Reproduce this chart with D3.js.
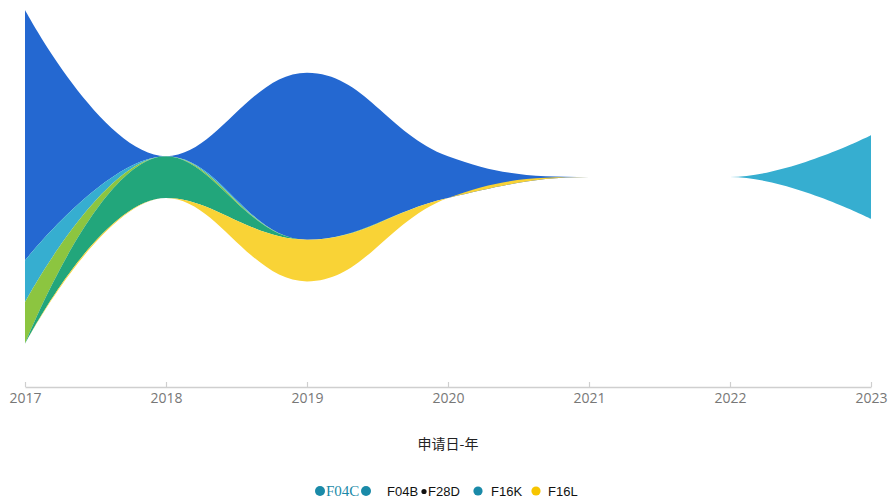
<!DOCTYPE html>
<html>
<head>
<meta charset="utf-8">
<script src="https://cdn.jsdelivr.net/npm/d3@7"></script>
<style>
  html, body { margin: 0; padding: 0; background: #fff; }
  svg { display: block; }
</style>
</head>
<body>
<svg id="chart" width="890" height="504"></svg>
<script>
// Filing years on the single axis
const years = [2017, 2018, 2019, 2020, 2021, 2022, 2023];

// Filing counts per IPC subclass, one value per year
const seriesNames = ["F04C", "F04B", "F28D", "F16K", "F16L"];
const valuesF04C = [6, 0, 4, 1, 0, 0, 0];
const valuesF04B = [1, 0, 0, 0, 0, 0, 2];
const valuesF28D = [1, 0, 0, 0, 0, 0, 0];
const valuesF16K = [0, 1, 0, 0, 0, 0, 0];
const valuesF16L = [0, 0, 1, 0, 0, 0, 0];

const tickLabels = years.map(String);
const axisTitle = "申请日-年";

const colors = ["#2468d1", "#36aed0", "#8cc540", "#22a67b", "#f9d336"];

const W = 890, H = 504;
const svg = d3.select("#chart");

// Build rows for d3.stack
const seriesValues = [valuesF04C, valuesF04B, valuesF28D, valuesF16K, valuesF16L];
const rows = years.map((yr, i) => {
  const r = { year: yr };
  seriesNames.forEach((n, j) => { r[n] = seriesValues[j][i]; });
  return r;
});

// Centered (silhouette) stream layout
const stack = d3.stack()
  .keys(seriesNames)
  .order(d3.stackOrderNone)
  .offset(d3.stackOffsetSilhouette);
const layers = stack(rows);

const maxSum = d3.max(rows, r => d3.sum(seriesNames, n => r[n]));

const x = d3.scaleLinear().domain([2017, 2023]).range([25, 871]);
// first layer drawn on top: lower stacked values map to smaller pixel y
const y = d3.scaleLinear().domain([-maxSum / 2, maxSum / 2]).range([10, 344]);

// Smooth curve with clamped control points (no overshoot past neighbours)
function RiverCurve(context) { this._context = context; this._smooth = 0.4; }
RiverCurve.prototype = {
  areaStart() { this._line = 0; },
  areaEnd() { this._line = NaN; },
  lineStart() { this._pts = []; },
  point(px, py) { this._pts.push([+px, +py]); },
  lineEnd() {
    const pts = this._pts, n = pts.length, ctx = this._context, s = this._smooth;
    if (!n) return;
    const clamp = (v, a, b) => Math.max(Math.min(v, Math.max(a, b)), Math.min(a, b));
    if (this._line) ctx.lineTo(pts[0][0], pts[0][1]);
    else ctx.moveTo(pts[0][0], pts[0][1]);
    let px = pts[0][0], py = pts[0][1];
    let c0x = px, c0y = py;
    for (let i = 1; i < n; i++) {
      const cx = pts[i][0], cy = pts[i][1];
      let c1x = cx, c1y = cy, n0x = cx, n0y = cy;
      if (i < n - 1) {
        const nx = pts[i + 1][0], ny = pts[i + 1][1];
        let vx = nx - px, vy = ny - py;
        const lp = Math.hypot(cx - px, cy - py);
        const ln = Math.hypot(nx - cx, ny - cy);
        const r = ln / (ln + lp);
        n0x = clamp(cx + vx * s * r, nx, cx);
        n0y = clamp(cy + vy * s * r, ny, cy);
        vx = n0x - cx; vy = n0y - cy;
        c1x = clamp(cx - vx * lp / ln, px, cx);
        c1y = clamp(cy - vy * lp / ln, py, cy);
        vx = cx - c1x; vy = cy - c1y;
        n0x = cx + vx * ln / lp;
        n0y = cy + vy * ln / lp;
      }
      ctx.bezierCurveTo(c0x, c0y, c1x, c1y, cx, cy);
      c0x = n0x; c0y = n0y; px = cx; py = cy;
    }
    if (this._line) ctx.closePath();
    this._line = 1 - this._line;
  }
};
const riverCurve = ctx => new RiverCurve(ctx);

const area = d3.area()
  .x(d => x(d.data.year))
  .y1(d => y(d[1]))
  .y0(d => y(d[0]))
  .curve(riverCurve);

svg.append("g")
  .selectAll("path")
  .data(layers)
  .join("path")
  .attr("d", area)
  .attr("fill", (d, i) => colors[i]);

// Single time axis
const axis = d3.axisBottom(x)
  .tickValues(years)
  .tickFormat((d, i) => tickLabels[i])
  .tickSizeInner(-5)
  .tickSizeOuter(0)
  .tickPadding(6);

const gAxis = svg.append("g")
  .attr("transform", "translate(0,387)")
  .call(axis);
gAxis.select(".domain").attr("stroke", "#cfcfcf").attr("stroke-width", 1.5);
gAxis.selectAll(".tick line").attr("stroke", "#cfcfcf").attr("stroke-width", 1.2);
gAxis.selectAll(".tick text")
  .attr("fill", "#777")
  .style("font-family", "'Open Sans', sans-serif")
  .style("font-size", "14px");

svg.append("text")
  .attr("x", 448)
  .attr("y", 449)
  .attr("text-anchor", "middle")
  .attr("fill", "#222")
  .style("font-family", "'Noto Sans CJK SC', sans-serif")
  .style("font-size", "14px")
  .text(axisTitle);

// Legend
const legend = svg.append("g").attr("transform", "translate(0,491)");
const dotTeal = "#1a8aa8", dotYellow = "#f7c500";
const sans = "'Liberation Sans', Arial, sans-serif";

legend.append("circle").attr("cx", 320).attr("cy", 0).attr("r", 5).attr("fill", dotTeal);
legend.append("text").attr("x", 326).attr("y", 4.5)
  .attr("fill", dotTeal)
  .style("font-family", "'Liberation Serif', serif").style("font-size", "15px")
  .text(seriesNames[0]);
legend.append("circle").attr("cx", 366).attr("cy", 0).attr("r", 5).attr("fill", dotTeal);

legend.append("text").attr("x", 387).attr("y", 4.5)
  .attr("fill", "#111").style("font-family", sans).style("font-size", "13px")
  .text(seriesNames[1]);
legend.append("circle").attr("cx", 424).attr("cy", 0.5).attr("r", 2.6).attr("fill", "#111");
legend.append("text").attr("x", 428).attr("y", 4.5)
  .attr("fill", "#111").style("font-family", sans).style("font-size", "13px")
  .text(seriesNames[2]);

legend.append("circle").attr("cx", 478).attr("cy", 0).attr("r", 4.6).attr("fill", dotTeal);
legend.append("text").attr("x", 491).attr("y", 4.5)
  .attr("fill", "#111").style("font-family", sans).style("font-size", "13px")
  .text(seriesNames[3]);

legend.append("circle").attr("cx", 536).attr("cy", 0).attr("r", 4.6).attr("fill", dotYellow);
legend.append("text").attr("x", 548).attr("y", 4.5)
  .attr("fill", "#111").style("font-family", sans).style("font-size", "13px")
  .text(seriesNames[4]);
</script>
</body>
</html>
